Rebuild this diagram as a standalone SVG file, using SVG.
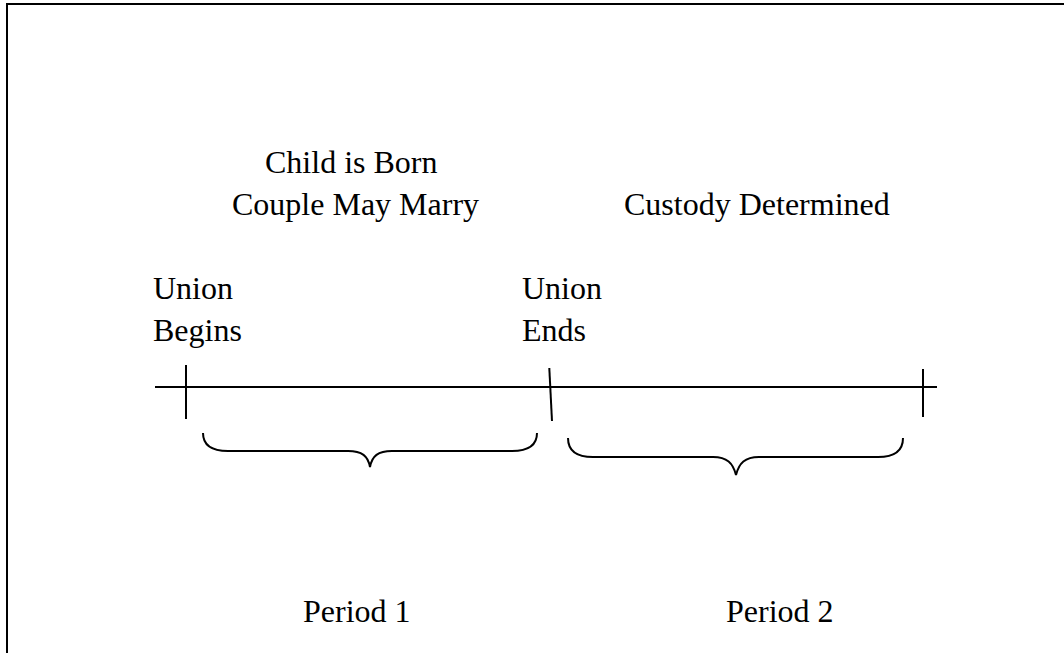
<svg xmlns="http://www.w3.org/2000/svg" width="1064" height="653" viewBox="0 0 1064 653">
<style>
.t{font-family:"Liberation Serif","Times New Roman",serif;font-size:32px;fill:#000}
.ln{stroke:#000;stroke-width:2;fill:none;stroke-linecap:butt}
</style>
<rect width="1064" height="653" fill="#fff"/>
<g id="frame">
<line class="ln" x1="7" y1="4" x2="1064" y2="4"/>
<line class="ln" x1="7" y1="3" x2="7" y2="653"/>
</g>
<g id="label-child"><text class="t" x="265" y="173">Child is Born</text>
<text class="t" x="232" y="215">Couple May Marry</text></g>
<g id="label-custody"><text class="t" x="624" y="215">Custody Determined</text></g>
<g id="label-begins"><text class="t" x="153" y="299">Union</text>
<text class="t" x="153" y="341">Begins</text></g>
<g id="label-ends"><text class="t" x="522" y="299">Union</text>
<text class="t" x="522" y="341">Ends</text></g>
<g id="label-p1"><text class="t" x="303" y="622">Period 1</text></g>
<g id="label-p2"><text class="t" x="726" y="622">Period 2</text></g>
<g id="connectors">
<line class="ln" x1="155" y1="387" x2="937" y2="387"/>
<line class="ln" x1="186" y1="365" x2="186" y2="419"/>
<line class="ln" x1="549.3" y1="368" x2="552" y2="421"/>
<line class="ln" x1="923" y1="369" x2="923" y2="417"/>
<path class="ln" d="M203,433 C203,446 212,451 228,451 L348,451 C362,451 368,456 370,467 C372,456 378,451 392,451 L512,451 C528,451 537,446 537,433"/>
<path class="ln" d="M568,438 C568,451 577,457 593,457 L713,457 C727,457 733,463 736,475 C739,463 745,457 759,457 L878,457 C894,457 903,451 903,438"/>
</g>
</svg>
